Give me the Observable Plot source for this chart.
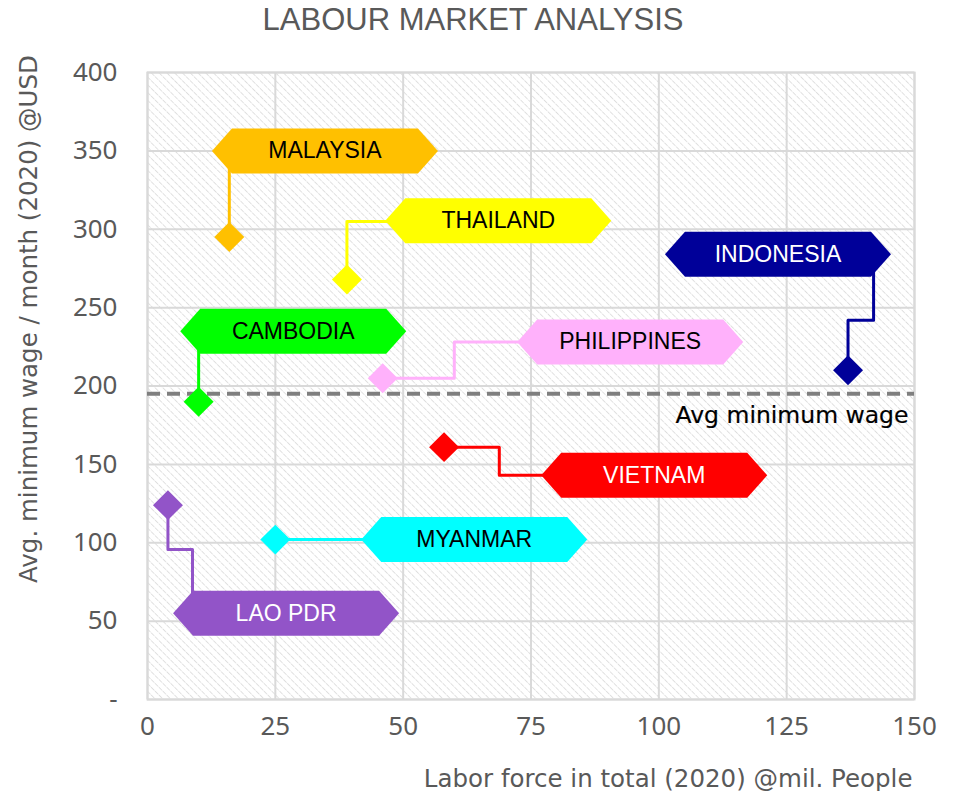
<!DOCTYPE html>
<html>
<head>
<meta charset="utf-8">
<script src="https://cdn.jsdelivr.net/npm/d3@7"></script>
<script src="https://cdn.jsdelivr.net/npm/@observablehq/plot@0.6"></script>
<style>
  html, body { margin: 0; padding: 0; background: #fff; }
  #chart svg { display: block; }
</style>
</head>
<body>
<div id="chart"></div>
<script>
// ---- data ----
const countries   = ["MALAYSIA", "THAILAND", "INDONESIA", "CAMBODIA", "PHILIPPINES", "VIETNAM", "MYANMAR", "LAO PDR"];
const laborForce  = [16, 39, 137, 10, 46, 58, 25, 4];        // mil. people (2020)
const minWage     = [295, 268, 210, 190, 205, 161, 102, 124]; // USD / month (2020)
const tagColors   = ["#FFC000", "#FFFF00", "#000099", "#00FF00", "#FFB1FB", "#FF0000", "#00FFFF", "#9254C8"];
const textColors  = ["#000000", "#000000", "#FFFFFF", "#000000", "#000000", "#FFFFFF", "#000000", "#FFFFFF"];
const labelX      = [34.7, 68.6, 123.3, 28.5, 94.4, 99.1, 63.9, 27.1];
const labelY      = [350, 305.5, 284, 235, 228, 143, 102, 55];
const connectors  = [
  [[16, 295], [16, 350]],
  [[39, 268], [39, 305], [60, 305]],
  [[137, 210], [137, 242], [142, 242], [142, 284]],
  [[10, 190], [10, 235]],
  [[46, 205], [60, 205], [60, 228], [80, 228]],
  [[58, 161], [68.8, 161], [68.8, 143], [85, 143]],
  [[25, 102], [50, 102]],
  [[4, 124], [4, 95.7], [8.8, 95.7], [8.8, 55]]
];
const avgWage = 195;
const avgLabel = "Avg minimum wage";
const xTicks = [0, 25, 50, 75, 100, 125, 150];
const yTicks = [0, 50, 100, 150, 200, 250, 300, 350, 400];
const title = "LABOUR MARKET ANALYSIS";
const xLabel = "Labor force in total (2020) @mil. People";
const yLabel = "Avg. minimum wage / month (2020) @USD";

// ---- tables ----
const points = countries.map((c, i) => ({country: c, x: laborForce[i], y: minWage[i], color: tagColors[i]}));
const tags = countries.map((c, i) => ({country: c, x: labelX[i], y: labelY[i], color: tagColors[i], text: textColors[i]}));
const links = connectors.flatMap((path, i) => path.map(([x, y]) => ({country: countries[i], x, y, color: tagColors[i]})));

// hexagonal tag shape (pixel size, independent of data)
const tagSymbol = {
  draw(ctx) {
    const w = 113, h = 22.5, t = 20;
    ctx.moveTo(-w, 0);
    ctx.lineTo(-w + t, -h);
    ctx.lineTo(w - t, -h);
    ctx.lineTo(w, 0);
    ctx.lineTo(w - t, h);
    ctx.lineTo(-w + t, h);
    ctx.closePath();
  }
};

const tickFont = "'Noto Sans', 'Open Sans', sans-serif";
const labelFont = "'DejaVu Sans', Verdana, sans-serif";
const arial = "'Liberation Sans', Arial, sans-serif";

const chart = Plot.plot({
  width: 956,
  height: 791,
  marginTop: 72,
  marginBottom: 92,
  marginLeft: 147,
  marginRight: 42,
  style: {fontFamily: tickFont, fontSize: "26px", color: "#595959", background: "#fff", overflow: "visible"},
  x: {domain: [0, 150], ticks: xTicks, tickSize: 0, tickPadding: 17, label: null},
  y: {domain: [0, 400], ticks: yTicks, tickSize: 0, tickPadding: 30, label: null,
      tickFormat: d => d === 0 ? "-" : d},
  marks: [
    Plot.frame({fill: "#fff", ariaLabel: "bg"}),
    Plot.ruleX(xTicks, {stroke: "#d9d9d9", strokeWidth: 2, strokeOpacity: 1}),
    Plot.ruleY(yTicks, {stroke: "#d9d9d9", strokeWidth: 2, strokeOpacity: 1}),
    Plot.frame({stroke: "#d9d9d9", strokeWidth: 2}),
    Plot.ruleY([avgWage], {stroke: "#7f7f7f", strokeWidth: 4, strokeDasharray: "13,7"}),
    Plot.text([avgLabel], {x: 150, y: avgWage, text: d => d, textAnchor: "end", dx: -6, dy: 22,
      fill: "#000", stroke: "#000", strokeWidth: 0.2, fontSize: 23.5, fontFamily: labelFont}),
    Plot.line(links, {x: "x", y: "y", z: "country", stroke: "color", strokeWidth: 3, curve: "linear"}),
    Plot.dot(points, {x: "x", y: "y", symbol: "diamond2", r: 13.5, fill: "color", stroke: "none", ariaLabel: "diamonds"}),
    Plot.dot(tags, {x: "x", y: "y", symbol: tagSymbol, r: 10, fill: "color", stroke: "none", ariaLabel: "tags"}),
    Plot.text(tags, {x: "x", y: "y", text: "country", fill: "text", fontSize: 23, fontFamily: arial}),
    Plot.text([title], {frameAnchor: "top", text: d => d, dx: -58, dy: -65, fill: "#595959", fontSize: 31,
      fontFamily: arial}),
    Plot.text([xLabel], {frameAnchor: "bottom-right", text: d => d, textAnchor: "end", dy: 87, dx: -2,
      fill: "#595959", fontSize: 24.5, fontFamily: labelFont}),
    Plot.text([yLabel], {frameAnchor: "left", text: d => d, rotate: -90, textAnchor: "middle", dx: -118, dy: -67,
      fill: "#595959", fontSize: 24.5, fontFamily: labelFont})
  ]
});

// defs: hatch pattern and drop shadow
const svg = d3.select(chart);
const defs = svg.insert("defs", ":first-child");
const pat = defs.append("pattern")
  .attr("id", "hatch").attr("patternUnits", "userSpaceOnUse")
  .attr("width", 5.5).attr("height", 5.5)
  .attr("patternTransform", "rotate(-45)");
pat.append("rect").attr("width", 5.5).attr("height", 5.5).attr("fill", "#fff");
pat.append("line").attr("x1", 0).attr("y1", 0).attr("x2", 0).attr("y2", 5.5)
  .attr("stroke", "#d4d4d4").attr("stroke-width", 1.4).attr("stroke-dasharray", "2.5,1");
const flt = defs.append("filter").attr("id", "shadow")
  .attr("x", "-20%").attr("y", "-40%").attr("width", "150%").attr("height", "200%");
flt.append("feDropShadow").attr("dx", 3).attr("dy", 3).attr("stdDeviation", 2)
  .attr("flood-color", "#000").attr("flood-opacity", 0.45);

svg.selectAll("[aria-label='bg']").each(function() {
  const el = d3.select(this);
  if (this.tagName === "rect") el.attr("fill", "url(#hatch)");
  el.selectAll("rect").attr("fill", "url(#hatch)");
});
svg.selectAll("g[aria-label='tags'], g[aria-label='diamonds']").attr("filter", "url(#shadow)");

document.getElementById("chart").appendChild(chart);
</script>
</body>
</html>
